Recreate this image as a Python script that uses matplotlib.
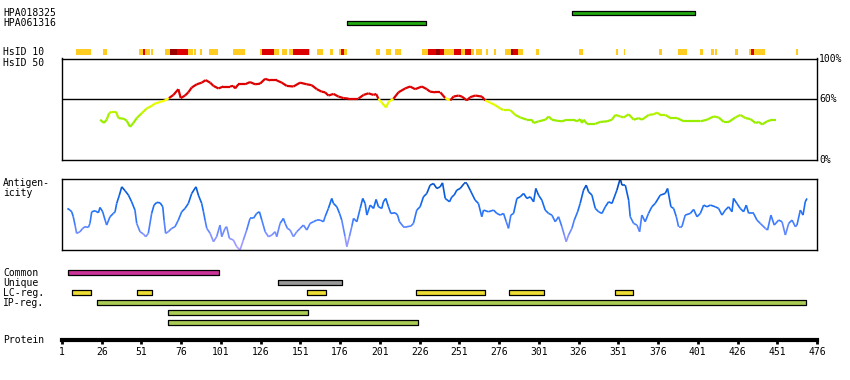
import numpy as np
import matplotlib
matplotlib.use('Agg')
import matplotlib.pyplot as plt
from matplotlib.collections import LineCollection
from matplotlib.colors import LinearSegmentedColormap, to_rgb

W, H = 850, 380
MONO = 'DejaVu Sans Mono'

# --- data -----------------------------------------------------------------
hpa_names = ['HPA018325', 'HPA061316']
hpa_ranges = [(322, 399), (180, 230)]

hsid10_yellow = [(10, 19), (27, 29), (49.5, 52), (53, 56.5), (57, 58.5), (66, 69),
                 (80.5, 82), (82.3, 83.5), (84, 85.5), (88, 89), (93.5, 99),
                 (108.5, 116), (125.5, 127), (134.5, 137.5), (139.5, 142.5),
                 (144, 146.5), (156.5, 157), (161.5, 165.5), (169.5, 171.5),
                 (175, 176.5), (178.5, 180.5), (198.5, 201), (205, 208),
                 (210.5, 214.5), (227.5, 231.5), (241.5, 247.5), (252, 254.5),
                 (258.5, 260.5), (261.5, 265.5), (268, 269), (273, 274),
                 (280, 283.5), (288, 291), (299.5, 301), (326.5, 328.5),
                 (349.5, 351), (354.5, 355.5), (376.5, 378.5), (388.5, 394),
                 (402.5, 404.5), (409.5, 411), (412, 413), (424.5, 426.5),
                 (433, 434.5), (436.5, 443.5), (463, 464)]
hsid10_red = [(52, 53), (73.5, 80.5), (127, 134.5), (146.5, 156.5), (176.5, 178.5),
              (231.5, 236), (239, 241.5), (247.5, 252), (254.5, 258.5),
              (285, 288), (434.5, 436.5)]
hsid10_dark = [(69, 73.5), (236, 239), (283.5, 285)]

id50_pos = [25, 27.4, 29.1, 30.6, 32.3, 35, 36.5, 40, 41.7, 43.8, 45.9, 48, 51.1,
            54.3, 57.4, 59.5, 62.7, 65.8, 68.3, 71.1, 74.2, 75.7, 78.4, 80.5, 82.6,
            85.8, 88.9, 91.4, 94.2, 96.3, 99.4, 102.5, 106.7, 108.8, 109.9, 112,
            116.2, 119.3, 122.5, 125.6, 128.8, 131.9, 136.1, 139.3, 142.4, 146.6,
            150.8, 155, 158.1, 161.3, 164.4, 166.5, 168.6, 171.8, 174.9, 178.1,
            181.2, 187.5, 190.7, 193.8, 197, 198.6, 200.1, 202.2, 204.9, 206.4,
            209.5, 212.7, 216.9, 220, 223.2, 227.4, 230.5, 232.6, 235.8, 239,
            242.1, 245.3, 247.3, 250.5, 252.6, 255.7, 257.8, 261, 265.2, 267.3,
            270.4, 273.6, 276.7, 278.8, 283, 286.2, 289.3, 293.5, 296.6, 297.7,
            300.9, 305.1, 307.2, 309.2, 312.4, 315.5, 318.7, 322.9, 325, 327.1,
            328.1, 329.2, 331.3, 336.5, 339.6, 343.9, 347, 349.1, 352.3, 354.4,
            357.5, 360.7, 363.8, 365.9, 370.1, 373.3, 375.4, 377.5, 380.6, 383.8,
            388, 392.2, 402.6, 406.8, 411, 414.2, 417.3, 420.5, 424.6, 427.8, 431,
            434.1, 437.3, 439.4, 441.5, 444.6, 447.8, 449.9]
id50_val = [39.7, 36.5, 39.7, 46.0, 47.6, 47.6, 41.3, 40.6, 38.7, 32.7, 36.5, 41.3,
            46.0, 50.8, 53.3, 55.6, 57.1, 58.7, 61.0, 64.1, 69.8, 61.0, 63.5, 66.7,
            71.4, 74.6, 76.2, 78.7, 76.2, 73.0, 70.5, 72.4, 72.4, 73.0, 70.5, 74.6,
            74.6, 76.8, 74.6, 75.2, 80.0, 78.4, 78.4, 76.2, 73.0, 72.4, 76.2, 74.6,
            73.7, 69.8, 67.3, 66.7, 63.5, 65.1, 62.5, 61.0, 60.5, 60.5, 64.1, 65.7,
            64.1, 65.1, 60.3, 56.5, 51.7, 57.1, 60.3, 66.7, 70.5, 72.4, 69.8, 72.4,
            69.8, 67.3, 66.7, 66.7, 61.0, 58.7, 62.5, 63.5, 62.5, 58.7, 61.9, 63.5,
            62.5, 58.7, 56.5, 54.0, 50.8, 49.2, 49.2, 44.4, 41.9, 39.7, 39.7, 36.5,
            38.1, 39.7, 42.9, 39.7, 38.7, 38.1, 39.7, 39.7, 38.1, 40.3, 36.5, 39.7,
            35.6, 35.6, 37.5, 38.1, 39.7, 44.4, 42.9, 41.9, 45.1, 39.7, 41.3, 39.7,
            44.4, 45.1, 46.7, 44.4, 44.4, 41.3, 41.3, 38.1, 38.1, 39.7, 42.9, 41.9,
            37.5, 37.5, 41.9, 44.4, 41.3, 40.3, 36.5, 37.5, 35.0, 38.1, 39.7, 39.7]

ag_pos = [4.4, 6, 7.1, 8.1, 9.2, 10.2, 12.3, 14, 15.5, 17.6, 18.6, 19.7, 21.8, 23.9,
          24.9, 26.6, 28.1, 29.1, 31.2, 33.3, 34.4, 35.4, 37.1, 38.6, 40.7, 42.8,
          44.8, 46.9, 48, 50.1, 52.2, 53.7, 55.3, 57.4, 58.9, 60.6, 62.7, 64.4,
          65.2, 66.2, 67.9, 70, 72.1, 74.2, 76.3, 78.4, 80.5, 82.6, 85.3, 86.8,
          88.9, 90, 91, 92.1, 94.2, 96.3, 98.3, 100.4, 101.5, 103.6, 104.6, 106.3,
          108.8, 110.9, 113, 115.1, 117.2, 119.3, 121.4, 123.5, 125.2, 126.7,
          128.8, 130.9, 133, 135.1, 136.1, 138.2, 140.3, 141.4, 142.8, 144.5,
          146.6, 148.7, 150.8, 152.9, 155, 157.1, 159.2, 161.3, 163.4, 165.5,
          166.5, 168.6, 170.7, 171.8, 173.9, 175.6, 177, 179.1, 180.2, 181.8,
          183.3, 184.4, 186.5, 188.6, 190.2, 191.7, 192.8, 194.9, 197, 198.6,
          200.1, 202.2, 203.2, 204.7, 206.4, 207.9, 210.6, 212.1, 213.3, 215.8,
          217.9, 220.5, 222.1, 224.2, 226.3, 228.4, 230.5, 232.6, 234.7, 236.8,
          238.9, 240.4, 242.1, 244.8, 246.3, 247.7, 249.4, 251.5, 254, 255.7,
          257.8, 260.9, 263, 265.1, 266.2, 269.3, 272.5, 274.6, 276.7, 278.8,
          280.5, 281.9, 283.4, 285.1, 287.2, 289.3, 291.4, 293.5, 295.6, 297.7,
          299.1, 300.8, 302.9, 305, 307.1, 309.2, 311.3, 313.4, 315.5, 317,
          318.2, 319.7, 321.8, 323.3, 325.4, 327, 329.1, 330.8, 332.3, 334.4,
          336.5, 338.6, 340.7, 342.8, 344.9, 347, 350.1, 352.2, 353.3, 355.4,
          357.5, 358.5, 360.6, 362.7, 364.4, 365.8, 367.9, 370, 372.1, 374.2,
          377.4, 380.5, 382, 384.1, 385.8, 387.5, 388.9, 391, 393.1, 396.3,
          398.4, 400.5, 402.6, 404.7, 406.8, 408.9, 412, 414.1, 416.2, 418.3,
          420.4, 422.5, 423.5, 425.6, 427.7, 429.8, 431.5, 433, 436.1, 438.2,
          440.3, 443.5, 444.9, 447, 449.1, 451.9, 454, 456.1, 458.2, 460.3,
          462.4, 463.4, 465.5, 467.2, 468.6, 469.7]
ag_val = [125, 120, 115, 100, 75, 50, 55, 65, 70, 68, 80, 115, 118, 112, 128, 115,
          90, 75, 100, 110, 115, 140, 165, 190, 178, 165, 145, 120, 80, 55, 48, 40,
          50, 110, 135, 143, 142, 130, 90, 50, 55, 65, 70, 90, 115, 125, 140, 170,
          190, 165, 140, 115, 90, 65, 50, 25, 40, 75, 40, 65, 70, 35, 30, 10, 0,
          30, 60, 95, 95, 110, 115, 90, 55, 40, 45, 55, 40, 80, 95, 80, 65, 60, 40,
          55, 65, 75, 60, 80, 85, 90, 90, 85, 100, 125, 155, 140, 130, 110, 90, 40,
          10, 40, 70, 95, 85, 125, 155, 140, 105, 135, 125, 152, 130, 125, 145,
          155, 130, 110, 112, 105, 85, 70, 70, 72, 80, 120, 130, 160, 170, 195,
          200, 185, 190, 202, 155, 145, 160, 165, 180, 185, 200, 200, 180, 150,
          140, 100, 120, 115, 120, 110, 105, 110, 85, 65, 105, 110, 155, 160, 170,
          155, 160, 145, 185, 165, 150, 120, 110, 105, 85, 100, 70, 45, 25, 45,
          65, 90, 115, 140, 180, 195, 175, 165, 125, 115, 110, 130, 145, 140, 180,
          215, 195, 195, 150, 100, 80, 75, 55, 105, 85, 110, 130, 140, 165, 170,
          185, 130, 125, 100, 70, 70, 105, 110, 122, 100, 110, 135, 130, 135,
          130, 125, 105, 120, 130, 115, 155, 140, 125, 115, 135, 110, 110, 90, 80,
          65, 60, 105, 75, 90, 85, 45, 80, 90, 70, 75, 120, 105, 145, 155]

feat_labels = ['Common', 'Unique', 'LC-reg.', 'IP-reg.']
common_rng = [(5, 100)]
unique_rng = [(137, 177)]
lc_rng = [(7, 19), (48, 57.5), (155, 167), (224, 267), (282, 304), (349, 360)]
ip_rng = [[(23, 469)], [(68, 156)], [(68, 225)]]
ticks = list(range(1, 477, 25))


def box(x0, y0, x1, y1):
    return [x0 / W, 1 - y1 / H, (x1 - x0) / W, (y1 - y0) / H]


def bare(ax):
    ax.set_xlim(1, 476)
    ax.set_xticks([])
    ax.set_yticks([])
    for s in ax.spines.values():
        s.set_visible(False)


def label(x, y, s, **kw):
    fig.text(x / W, 1 - y / H, s, fontsize=7, family=MONO, va='center', **kw)


fig = plt.figure(figsize=(W / 100, H / 100), dpi=100)
X0, X1 = 62, 817

# HPA antigens
ax = fig.add_axes(box(X0, 3, X1, 33))
bare(ax)
ax.set_ylim(3, 0)
for i, (a, b) in enumerate(hpa_ranges):
    ax.broken_barh([(a, b - a)], (i + 1 - 0.22, 0.44), facecolor='#22aa11',
                   edgecolor='black', linewidth=0.9)
for i, n in enumerate(hpa_names):
    label(3, 13 + 10 * i, n)

# HsID 10 strip
ax = fig.add_axes(box(X0, 49.5, X1, 54.5))
bare(ax)
ax.set_ylim(0, 1)
for segs, c in [(hsid10_yellow, '#ffcc22'), (hsid10_red, '#dd0000'),
                (hsid10_dark, '#990000')]:
    ax.broken_barh([(a, b - a) for a, b in segs], (0, 1), facecolor=c,
                   linewidth=0)
label(3, 52, 'HsID 10')
label(3, 62.5, 'HsID 50')

# HsID 50 curve
ax = fig.add_axes(box(X0, 58.5, X1, 160))
ax.set_xlim(1, 476)
ax.set_ylim(0, 100)
ax.set_xticks([])
ax.set_yticks([])
for s in ax.spines.values():
    s.set_linewidth(1.0)
ax.axhline(60, color='black', linewidth=1.0, zorder=1)


def id_color(v):
    if v >= 60:
        return '#dd0000'
    t = np.clip((60 - v) / 20, 0, 1)
    c0, c1 = np.array(to_rgb('#ffff00')), np.array(to_rgb('#99ee00'))
    return tuple(c0 + (c1 - c0) * t)


x = np.array(id50_pos)
y = np.array(id50_val)
segs = np.stack([np.column_stack([x[:-1], y[:-1]]), np.column_stack([x[1:], y[1:]])], axis=1)
cols = [id_color((a + b) / 2) for a, b in zip(y[:-1], y[1:])]
ax.add_collection(LineCollection(segs, colors=cols, linewidths=1.6,
                                 capstyle='butt', zorder=2))
for v, s in [(100, '100%'), (60, '60%'), (0, '0%')]:
    ax.text(1.003, v / 100, s, transform=ax.transAxes, fontsize=7, family=MONO,
            va='center', ha='left')

# Antigenicity
ax = fig.add_axes(box(X0, 178.5, X1, 250))
ax.set_xlim(1, 476)
ax.set_ylim(0, 215)
ax.set_xticks([])
ax.set_yticks([])
for s in ax.spines.values():
    s.set_linewidth(1.0)
cmap = LinearSegmentedColormap.from_list(
    'ag', ['#b0a0ff', '#7f90ff', '#3d7cff', '#1a6ef5', '#0a5ee0', '#0046b0'])
x = np.array(ag_pos)
y = np.array(ag_val)
segs = np.stack([np.column_stack([x[:-1], y[:-1]]), np.column_stack([x[1:], y[1:]])], axis=1)
mid = (y[:-1] + y[1:]) / 2
ax.add_collection(LineCollection(segs, colors=cmap(mid / 215), linewidths=1.2))
label(3, 183, 'Antigen-')
label(3, 193, 'icity')

# feature rows + protein axis
ax = fig.add_axes(box(X0, 262.3, X1, 339.7))
ax.set_xlim(1, 476)
ax.set_ylim(7.74, 0)
for k in ['top', 'left', 'right']:
    ax.spines[k].set_visible(False)
ax.spines['bottom'].set_linewidth(3.0)
ax.set_yticks([])
ax.set_xticks(ticks)
ax.set_xticklabels([str(t) for t in ticks], fontsize=7, family=MONO)
ax.tick_params(axis='x', length=3, width=2, pad=2)

rows = [(1, common_rng, '#cc3399'), (2, unique_rng, '#999999'),
        (3, lc_rng, '#eedd33')] + [(4 + i, r, '#aacc55') for i, r in enumerate(ip_rng)]
for r, rng, c in rows:
    ax.broken_barh([(a, b - a) for a, b in rng], (r - 0.22, 0.44), facecolor=c,
                   edgecolor='black', linewidth=0.9)
for i, n in enumerate(feat_labels):
    label(3, 273 + 10 * i, n)
label(3, 340, 'Protein')

fig.savefig('out.png', dpi=100)
